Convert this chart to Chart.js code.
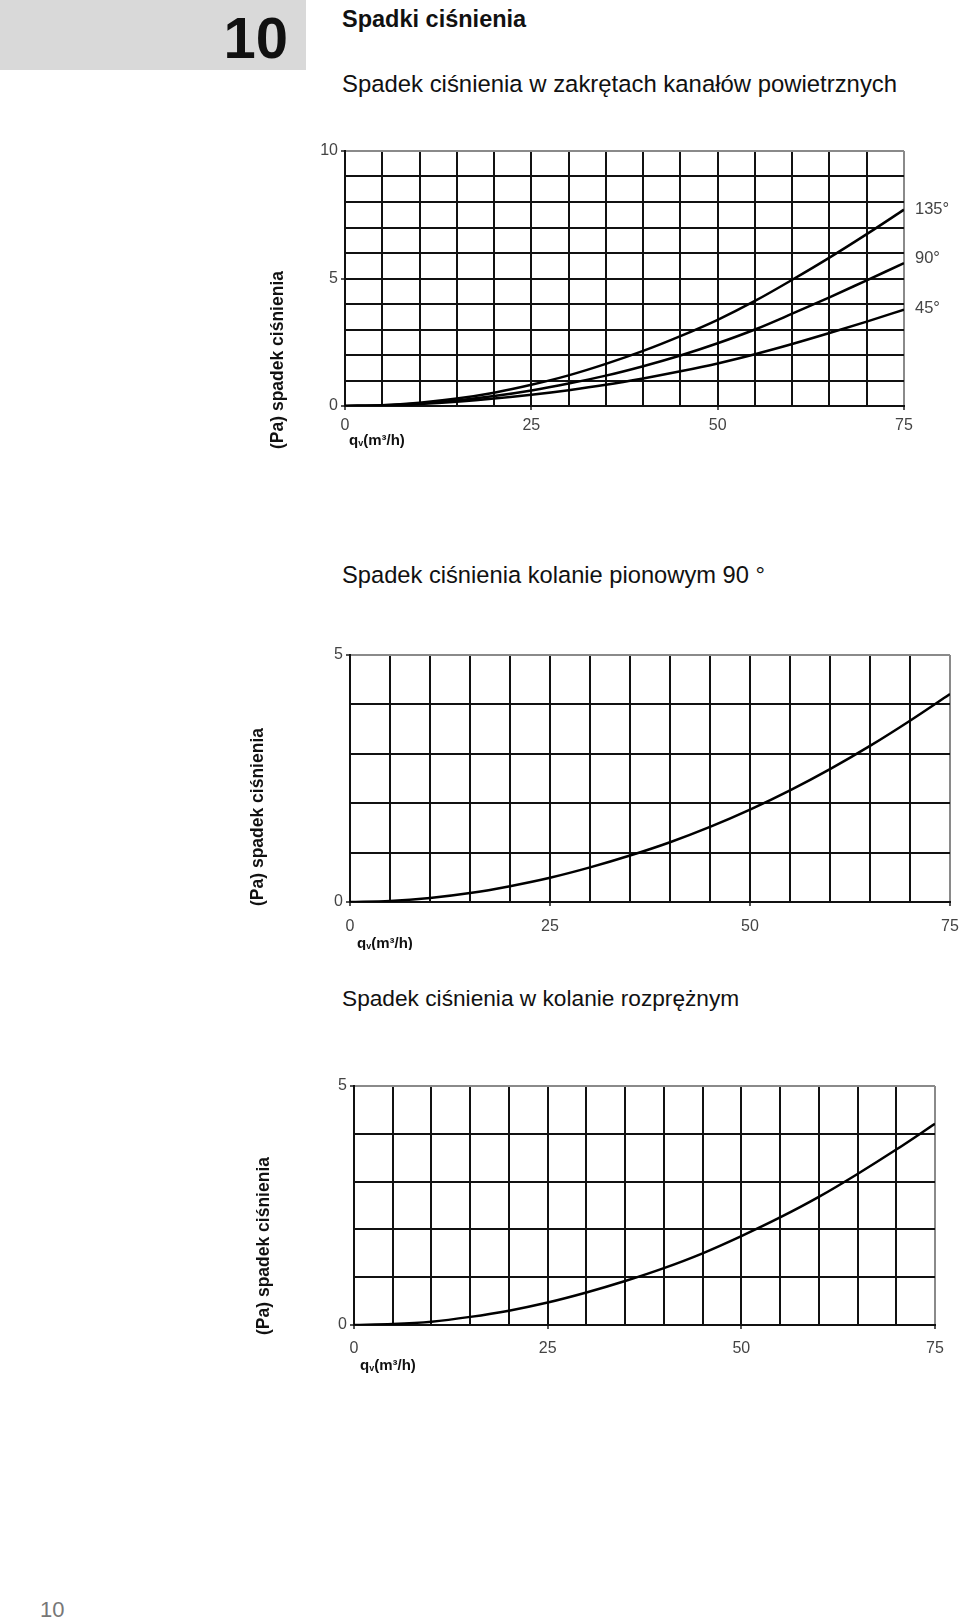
<!DOCTYPE html>
<html>
<head>
<meta charset="utf-8">
<script src="https://cdn.jsdelivr.net/npm/chart.js@4.4.0/dist/chart.umd.min.js"></script>
<style>
  body { margin: 0; width: 960px; height: 1621px; background: #fff; position: relative; overflow: hidden;
         font-family: "Liberation Sans", Arial, sans-serif; color: #111; }
  .abs { position: absolute; line-height: 1; white-space: nowrap; }
  #box { position: absolute; left: 0; top: 0; width: 306px; height: 70px; background: #d9d9d9; }
  #chap { left: 0; width: 288px; text-align: right; top: 9px; font-size: 58px; font-weight: bold; }
  #head { left: 342px; top: 8px; font-size: 23.5px; font-weight: bold; }
  .sub { left: 342px; }
  #page { left: 40px; top: 1599px; font-size: 22px; color: #777; }
  canvas { position: absolute; }
</style>
</head>
<body>
<div id="box"></div>
<div id="chap" class="abs">10</div>
<div id="head" class="abs">Spadki ciśnienia</div>
<div class="abs sub" style="top:72px;font-size:23.9px">Spadek ciśnienia w zakrętach kanałów powietrznych</div>
<div class="abs sub" style="top:564px;font-size:23.7px">Spadek ciśnienia kolanie pionowym 90 °</div>
<div class="abs sub" style="top:987px;font-size:22.7px">Spadek ciśnienia w kolanie rozprężnym</div>
<div id="page" class="abs">10</div>

<canvas id="chart1" width="730" height="330" style="left:230px;top:130px"></canvas>
<canvas id="chart2" width="740" height="330" style="left:230px;top:620px"></canvas>
<canvas id="chart3" width="730" height="330" style="left:230px;top:1050px"></canvas>

<script>
// flow rate qv (m3/h)
var qv = [0, 5, 10, 15, 20, 25, 30, 35, 40, 45, 50, 55, 60, 65, 70, 75];

// chart 1 - bends
var bend135 = [0, 0.03, 0.13, 0.29, 0.52, 0.83, 1.2, 1.65, 2.16, 2.74, 3.38, 4.12, 4.95, 5.82, 6.74, 7.7];
var bend90  = [0, 0.03, 0.1, 0.22, 0.39, 0.61, 0.88, 1.19, 1.56, 1.98, 2.46, 3.0, 3.62, 4.26, 4.93, 5.6];
var bend45  = [0, 0.02, 0.08, 0.17, 0.29, 0.44, 0.62, 0.83, 1.08, 1.36, 1.67, 2.03, 2.43, 2.86, 3.31, 3.78];
var bendNames = ["135°", "90°", "45°"];

// chart 2 - vertical elbow 90
var vertElbow = [0, 0.02, 0.08, 0.18, 0.32, 0.49, 0.7, 0.94, 1.21, 1.52, 1.87, 2.26, 2.69, 3.16, 3.67, 4.21];

// chart 3 - expansion elbow
var expElbow = [0, 0.02, 0.07, 0.17, 0.3, 0.47, 0.68, 0.92, 1.19, 1.5, 1.86, 2.25, 2.68, 3.16, 3.67, 4.21];

var yTitle = "(Pa) spadek ciśnienia";
var FONT = '"Liberation Sans", Arial, sans-serif';

function pts(ys) {
  return qv.map(function (x, i) { return { x: x, y: ys[i] }; });
}

var decor = {
  id: 'decor',
  afterDraw: function (chart, args, o) {
    var ctx = chart.ctx, a = chart.chartArea;
    ctx.save();
    // y axis title
    ctx.translate(a.left + o.title[0], a.bottom + o.title[1]);
    ctx.rotate(-Math.PI / 2);
    ctx.font = 'bold 17.5px ' + FONT;
    ctx.fillStyle = '#111';
    ctx.textBaseline = 'middle';
    ctx.textAlign = 'left';
    ctx.fillText(yTitle, 0, 0);
    ctx.restore();

    // qv(m3/h)
    ctx.save();
    ctx.fillStyle = '#111';
    ctx.textBaseline = 'alphabetic';
    var x = a.left + o.qv[0], y = a.bottom + o.qv[1];
    ctx.font = 'bold 15px ' + FONT;
    ctx.fillText('q', x, y);
    x += ctx.measureText('q').width;
    ctx.font = 'bold 9px ' + FONT;
    ctx.fillText('v', x, y + 1);
    x += ctx.measureText('v').width;
    ctx.font = 'bold 15px ' + FONT;
    ctx.fillText('(m³/h)', x, y);
    ctx.restore();

    // series labels at curve ends
    if (o.names) {
      ctx.save();
      ctx.font = '16.5px ' + FONT;
      ctx.fillStyle = '#444';
      ctx.textBaseline = 'middle';
      chart.data.datasets.forEach(function (ds, i) {
        var last = ds.data[ds.data.length - 1];
        var py = chart.scales.y.getPixelForValue(last.y) + o.nameOff[i];
        ctx.fillText(o.names[i], a.right + 11, py);
      });
      ctx.restore();
    }
  }
};

function makeChart(id, sets, yMax, lay, deco) {
  var lastX = qv[qv.length - 1];
  return new Chart(id, {
    type: 'line',
    data: {
      datasets: sets.map(function (s) {
        return {
          data: pts(s),
          borderColor: '#000',
          borderWidth: 2.5,
          pointRadius: 0,
          cubicInterpolationMode: 'monotone',
          fill: false
        };
      })
    },
    options: {
      responsive: false,
      animation: false,
      events: [],
      layout: { autoPadding: false, padding: { left: 0, top: lay.top, right: lay.right, bottom: 0 } },
      plugins: { legend: { display: false }, tooltip: { enabled: false }, decor: deco },
      scales: {
        x: {
          type: 'linear', min: 0, max: lastX,
          afterFit: function (s) { s.height = lay.xh; },
          border: { display: true, color: '#111', width: 2 },
          grid: {
            lineWidth: 2,
            tickLength: 4,
            color: function (c) { return c.tick && c.tick.value === lastX ? '#8a8a8a' : '#111'; },
            tickColor: function (c) { return c.tick && c.tick.value % 25 === 0 ? '#555' : 'rgba(0,0,0,0)'; }
          },
          ticks: {
            stepSize: 5, autoSkip: false, maxRotation: 0, padding: lay.xpad,
            color: '#444', font: { family: FONT, size: 16 },
            callback: function (v) { return v % 25 === 0 ? String(v) : ''; }
          }
        },
        y: {
          min: 0, max: yMax,
          afterFit: function (s) { s.width = lay.yw; },
          border: { display: true, color: '#111', width: 2 },
          grid: {
            lineWidth: 2,
            tickLength: 4,
            color: function (c) { return c.tick && c.tick.value === yMax ? '#8a8a8a' : '#111'; },
            tickColor: function (c) { return c.tick && c.tick.value % 5 === 0 ? '#555' : 'rgba(0,0,0,0)'; }
          },
          ticks: {
            stepSize: 1, autoSkip: false, padding: 3,
            color: '#444', font: { family: FONT, size: 16 },
            callback: function (v) { return v % 5 === 0 ? String(v) : ''; }
          }
        }
      }
    },
    plugins: [decor]
  });
}

makeChart('chart1', [bend135, bend90, bend45], 10,
  { top: 21, right: 56, xh: 54, yw: 115, xpad: 6 },
  { title: [-67, 43], qv: [4, 39], names: bendNames, nameOff: [0, -5, -1] });

makeChart('chart2', [vertElbow], 5,
  { top: 35, right: 20, xh: 48, yw: 120, xpad: 11 },
  { title: [-92, 4], qv: [7, 46] });

makeChart('chart3', [expElbow], 5,
  { top: 36, right: 25, xh: 55, yw: 124, xpad: 10 },
  { title: [-90, 10], qv: [6, 45] });
</script>
</body>
</html>
